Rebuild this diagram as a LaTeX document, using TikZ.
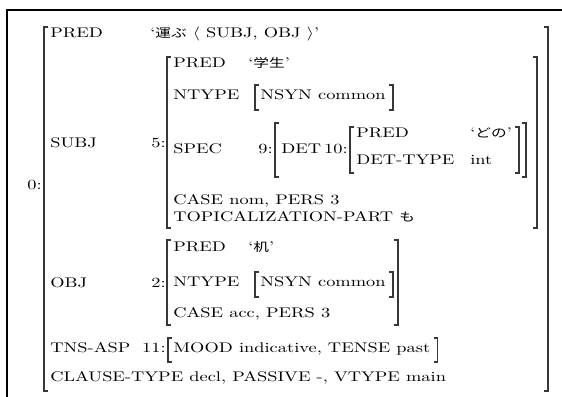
\documentclass[tikz,border=0pt]{standalone}
\usepackage{fontspec}
\newfontfamily\jpfont{Noto Sans CJK JP}
\usepackage{tikz}
\usetikzlibrary{calc}
\definecolor{brkgray}{RGB}{55,55,55}

% japanese words in the values
\newcommand{\ja}[1]{{\fontsize{8.5}{10}\selectfont\jpfont #1}}
% square brackets: x, top, bottom
\newcommand{\brkL}[3]{\draw[brk] (#1+4,#2) -- (#1,#2) -- (#1,#3) -- (#1+4,#3);}
\newcommand{\brkR}[3]{\draw[brk] (#1-4,#2) -- (#1,#2) -- (#1,#3) -- (#1-4,#3);}

\begin{document}
\begin{tikzpicture}[x=0.5435pt, y=-0.5435pt,
    brk/.style={brkgray, line width=0.7pt},
    txt/.style={anchor=base west, inner sep=0pt, yscale=0.76},
    idx/.style={anchor=base east, inner sep=0pt, yscale=0.76}]
    \useasboundingbox (0,0) rectangle (562,397);
    \draw[line width=0.8pt] (562,10) -- (7,10) -- (7,397);

    % f-structure 0
    \node[idx] (i0) at (42,190) {0:};
    \brkL{44}{27}{391} \brkR{548}{27}{391}
    \node[txt] (pred) at (50,38) {PRED};
    \node[txt] (predv) at (150,38) {`\ja{運ぶ} $\langle$ SUBJ, OBJ $\rangle$'};

    % SUBJ
    \node[txt] (subj) at (50,148) {SUBJ};
    \node[idx] (i5) at (166,148) {5:};
    \brkL{167}{57}{228} \brkR{537}{57}{228}
    \node[txt] (spred) at (173,68) {PRED};
    \node[txt] (spredv) at (248,68) {`\ja{学生}'};
    \node[txt] (sntype) at (173,100) {NTYPE};
    \brkL{255}{85}{110}
    \node[txt] (snsyn) at (260,100) {NSYN common};
    \draw[brk] ([shift={(3,-15)}]snsyn.base east) -- ++(4,0) -- ++(0,25) -- ++(-4,0);
    \node[txt] (sspec) at (173,154) {SPEC};
    \node[idx] (i9) at (273,154) {9:};
    \brkL{275}{123}{177} \brkR{526}{123}{177}
    \node[txt] (det) at (281,154) {DET};
    \node[idx] (i10) at (348,154) {10:};
    \brkL{350}{127}{173} \brkR{519}{127}{173}
    \node[txt] (dpred) at (356,138) {PRED};
    \node[txt] (dpredv) at (470,138) {`\ja{どの}'};
    \node[txt] (dtype) at (356,165) {DET-TYPE};
    \node[txt] (dtypev) at (470,165) {int};
    \node[txt] (scase) at (173,205) {CASE nom, PERS 3};
    \node[txt] (stopic) at (173,222) {TOPICALIZATION-PART \ja{も}};

    % OBJ
    \node[txt] (obj) at (50,288) {OBJ};
    \node[idx] (i2) at (166,288) {2:};
    \brkL{167}{240}{325} \brkR{398}{240}{325}
    \node[txt] (opred) at (173,252) {PRED};
    \node[txt] (opredv) at (248,252) {`\ja{机}'};
    \node[txt] (ontype) at (173,287) {NTYPE};
    \brkL{255}{272}{297}
    \node[txt] (onsyn) at (260,287) {NSYN common};
    \draw[brk] ([shift={(3,-15)}]onsyn.base east) -- ++(4,0) -- ++(0,25) -- ++(-4,0);
    \node[txt] (ocase) at (173,318) {CASE acc, PERS 3};

    % TNS-ASP and the rest
    \node[txt] (tns) at (50,353) {TNS-ASP};
    \node[idx] (i11) at (166,353) {11:};
    \brkL{168}{338}{362}
    \node[txt] (mood) at (173,353) {MOOD indicative, TENSE past};
    \draw[brk] ([shift={(3,-15)}]mood.base east) -- ++(4,0) -- ++(0,24) -- ++(-4,0);
    \node[txt] (clause) at (50,382) {CLAUSE-TYPE decl, PASSIVE -, VTYPE main};
\end{tikzpicture}
\end{document}
